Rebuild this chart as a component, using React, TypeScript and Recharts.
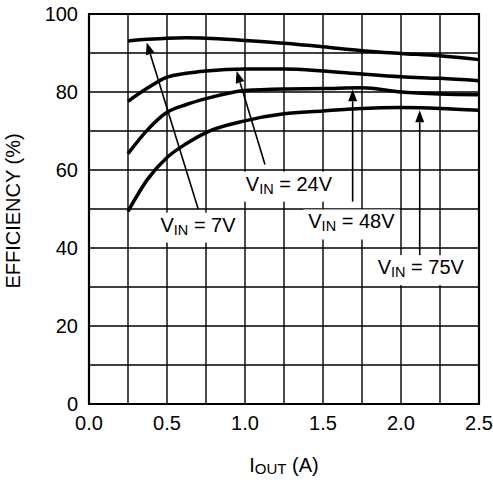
import React from "react";
import {
  LineChart,
  Line,
  XAxis,
  YAxis,
  CartesianGrid,
  ReferenceLine,
  ReferenceDot,
  ReferenceArea,
} from "recharts";

if (typeof document !== "undefined") document.body.style.margin = "0";

// output current (A)
const IOUT = [0.25, 0.375, 0.5, 0.625, 0.75, 1.0, 1.25, 1.5, 1.75, 2.0, 2.25, 2.5];

// efficiency (%) per input voltage
const VIN_7V = [93.1, 93.5, 93.8, 93.9, 93.8, 93.2, 92.5, 91.6, 90.6, 89.9, 89.3, 88.3];
const VIN_24V = [77.6, 81.0, 83.8, 84.8, 85.4, 85.9, 85.9, 85.4, 84.6, 83.9, 83.5, 82.9];
const VIN_48V = [64.2, 70.3, 74.8, 76.8, 78.3, 80.4, 80.8, 80.9, 81.1, 80.0, 79.5, 79.3];
const VIN_75V = [49.4, 57.6, 63.2, 66.8, 69.6, 72.6, 74.4, 75.1, 75.8, 76.0, 75.8, 75.3];

const X_TICKS = [0, 0.25, 0.5, 0.75, 1, 1.25, 1.5, 1.75, 2, 2.25, 2.5];
const Y_TICKS = [0, 10, 20, 30, 40, 50, 60, 70, 80, 90, 100];

// callouts: label centre, arrow tail, arrow tip (data coords)
const CALLOUTS = [
  { vin: "7V", at: [0.699, 46.0], tail: [0.7, 50.0], tip: [0.37, 92.7] },
  { vin: "24V", at: [1.282, 56.5], tail: [1.128, 61.4], tip: [0.946, 85.4] },
  { vin: "48V", at: [1.682, 46.8], tail: [1.69, 51.9], tip: [1.69, 80.7] },
  { vin: "75V", at: [2.127, 35.1], tail: [2.12, 37.8], tip: [2.12, 75.3] },
];

const data = IOUT.map((x, i) => ({
  iout: x,
  v7: VIN_7V[i],
  v24: VIN_24V[i],
  v48: VIN_48V[i],
  v75: VIN_75V[i],
}));

const FONT = "'Liberation Sans', Arial, Helvetica, sans-serif";
const TICK = { fill: "#000", fontSize: 20, fontFamily: FONT };

function Arrow(props: any) {
  const { x1, y1, x2, y2 } = props;
  const ang = Math.atan2(y2 - y1, x2 - x1);
  const len = 12;
  const half = 4.5;
  const bx = x2 - len * Math.cos(ang);
  const by = y2 - len * Math.sin(ang);
  const px = -Math.sin(ang) * half;
  const py = Math.cos(ang) * half;
  return (
    <g>
      <line x1={x1} y1={y1} x2={bx} y2={by} stroke="#000" strokeWidth={1.6} />
      <polygon
        points={`${x2},${y2} ${bx + px},${by + py} ${bx - px},${by - py}`}
        fill="#000"
      />
    </g>
  );
}

function VinLabel({ cx, cy, vin }: any) {
  const w = 63 + 11 * vin.length;
  return (
    <g>
      <rect x={cx - w / 2} y={cy - 12} width={w} height={30} fill="#fff" />
      <text x={cx} y={cy + 7} textAnchor="middle" fontSize={20} fontFamily={FONT} fill="#000">
        <tspan>V</tspan>
        <tspan fontSize={14.5} dy={3}>IN</tspan>
        <tspan dy={-3}>{` = ${vin}`}</tspan>
      </text>
    </g>
  );
}

export default function App() {
  return (
    <LineChart
      width={493}
      height={480}
      data={data}
      margin={{ top: 14, right: 14, left: 0, bottom: 0 }}
    >
      <CartesianGrid stroke="#000" strokeWidth={1.4} />
      <XAxis
        dataKey="iout"
        type="number"
        domain={[0, 2.5]}
        ticks={X_TICKS}
        tickFormatter={(v) => (Math.round(v * 100) % 50 === 0 ? v.toFixed(1) : "")}
        tick={TICK}
        tickLine={false}
        tickSize={0}
        tickMargin={12}
        axisLine={false}
        height={76}
        interval={0}
      />
      <YAxis
        type="number"
        domain={[0, 100]}
        ticks={Y_TICKS}
        tickFormatter={(v) => (v % 20 === 0 ? String(v) : "")}
        tick={TICK}
        tickLine={false}
        tickSize={0}
        tickMargin={11}
        axisLine={false}
        width={89}
        interval={0}
      />
      <ReferenceArea
        x1={0}
        x2={2.5}
        y1={0}
        y2={100}
        fill="none"
        fillOpacity={0}
        stroke="#000"
        strokeWidth={2.2}
      />
      <Line type="monotone" dataKey="v7" stroke="#000" strokeWidth={3.5} dot={false} isAnimationActive={false} />
      <Line type="monotone" dataKey="v24" stroke="#000" strokeWidth={3.5} dot={false} isAnimationActive={false} />
      <Line type="monotone" dataKey="v48" stroke="#000" strokeWidth={3.5} dot={false} isAnimationActive={false} />
      <Line type="monotone" dataKey="v75" stroke="#000" strokeWidth={3.5} dot={false} isAnimationActive={false} />
      {CALLOUTS.map((c) => (
        <ReferenceLine
          key={`arrow-${c.vin}`}
          segment={[
            { x: c.tail[0], y: c.tail[1] },
            { x: c.tip[0], y: c.tip[1] },
          ]}
          stroke="#000"
          shape={(p: any) => <Arrow {...p} />}
        />
      ))}
      {CALLOUTS.map((c) => (
        <ReferenceDot
          key={`label-${c.vin}`}
          x={c.at[0]}
          y={c.at[1]}
          r={1}
          shape={(p: any) => <VinLabel cx={p.cx} cy={p.cy} vin={c.vin} />}
        />
      ))}
      <text
        x={20}
        y={211}
        transform="rotate(-90, 20, 211)"
        textAnchor="middle"
        fontSize={20}
        fontFamily={FONT}
        fill="#000"
      >
        EFFICIENCY (%)
      </text>
      <text x={284} y={472} textAnchor="middle" fontSize={20} fontFamily={FONT} fill="#000">
        <tspan>I</tspan>
        <tspan fontSize={15} dy={2}>OUT</tspan>
        <tspan dy={-2}> (A)</tspan>
      </text>
    </LineChart>
  );
}
